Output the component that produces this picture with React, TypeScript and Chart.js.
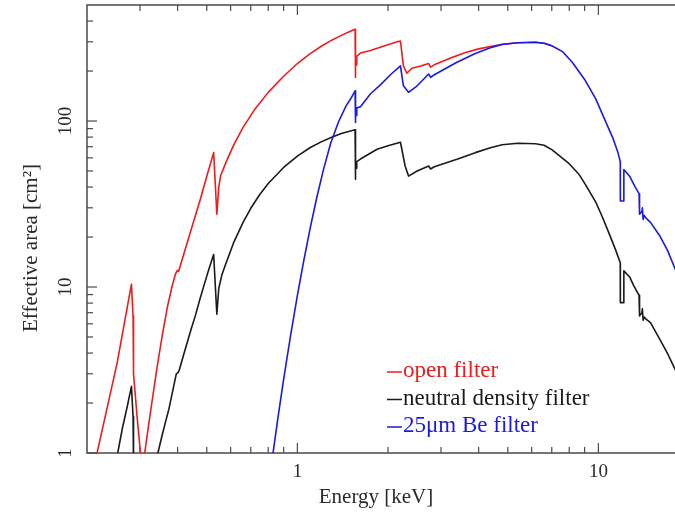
import React, { useEffect, useRef } from 'react';
import { Chart, registerables } from 'chart.js';
Chart.register(...registerables);

// ---- axis ticks ----
const X_MAJOR = [1, 10];
const X_MAJOR_LABELS = ['1', '10'];
const X_MINOR = [0.3, 0.4, 0.5, 0.6, 0.7, 0.8, 0.9, 2, 3, 4, 5, 6, 7, 8, 9, 20];
const Y_MAJOR = [1, 10, 100];
const Y_MAJOR_LABELS = ['1', '10', '100'];
const Y_MINOR = [2, 3, 4, 5, 6, 7, 8, 9, 20, 30, 40, 50, 60, 70, 80, 90, 200, 300, 400];

const X_TITLE = 'Energy [keV]';
const Y_TITLE = 'Effective area [cm\u00B2]';
const SERIES_LABELS = ['open filter', 'neutral density filter', '25\u03BCm Be filter'];
const SERIES_COLORS = ['#ee1c1c', '#1a1a1a', '#1a1ae6'];
const SERIES_ORDER = [2, 1, 0];

// ---- open filter (red); above ~7 keV it coincides with (and is hidden by) the Be curve ----
const openE = [0.205, 0.216, 0.252, 0.281, 0.2845, 0.285, 0.2855, 0.286, 0.293, 0.301, 0.305, 0.307,
  0.311, 0.32, 0.329, 0.342, 0.355, 0.37, 0.383, 0.393, 0.399, 0.403, 0.414, 0.424, 0.45, 0.476, 0.50,
  0.527, 0.540, 0.548, 0.556, 0.58, 0.614, 0.66, 0.72, 0.80, 0.90, 1.0, 1.1, 1.2, 1.3, 1.4, 1.5, 1.555,
  1.557, 1.563, 1.567, 1.575, 1.62, 1.75, 1.863, 2.0, 2.144, 2.2, 2.25, 2.31, 2.40, 2.55, 2.73, 2.77,
  2.85, 3.26, 3.6, 4.0, 4.79, 5.4, 6.18, 6.6, 7.0];
const openA = [0.66, 1.0, 3.5, 10.4, 6.7, 4.5, 6.0, 3.0, 1.7, 1.0, 0.8, 0.8,
  1.0, 1.45, 2.05, 3.3, 5.0, 7.6, 10.0, 11.9, 12.6, 12.4, 14.6, 16.9, 24.1, 33.8, 46.5,
  64.5, 27.5, 40, 47, 56.7, 71.6, 91.5, 116.8, 148.8, 186, 222, 254, 282, 307, 328, 347, 357,
  183, 240, 218, 245, 257, 266, 276, 288, 300, 303, 215, 194, 208, 214, 222, 211,
  218, 241, 258, 272, 290, 296, 298, 294, 284];

// ---- neutral density filter (black) ----
const ndE = [0.245, 0.253, 0.262, 0.272, 0.281, 0.2845, 0.285, 0.2855, 0.286, 0.29, 0.34,
  0.344, 0.355, 0.365, 0.374, 0.385, 0.396, 0.401, 0.405, 0.417, 0.43, 0.444, 0.458, 0.474, 0.49,
  0.508, 0.527, 0.540, 0.548, 0.561, 0.58, 0.614, 0.66, 0.70, 0.75, 0.80, 0.90, 1.0, 1.1, 1.2, 1.3,
  1.4, 1.5, 1.555, 1.557, 1.563, 1.567, 1.575, 1.62, 1.84, 2.0, 2.17, 2.2, 2.28, 2.34, 2.5, 2.73,
  2.77, 2.85, 3.39, 3.9, 4.38, 4.79, 5.4, 6.18, 6.6, 7.02, 7.94, 8.6, 9.05, 9.8, 10.3, 10.8, 11.4,
  11.82, 11.83, 12.13, 12.15, 12.7, 13.1, 13.65, 13.7, 13.95, 14.0, 14.08, 14.2, 14.4, 14.9, 16.0,
  17.0, 18.0, 20];
const ndA = [0.75, 1.0, 1.4, 1.9, 2.52, 1.66, 1.2, 1.5, 0.8, 0.6, 0.6,
  1.0, 1.27, 1.55, 1.83, 2.35, 3.0, 3.05, 3.15, 3.8, 4.6, 5.6, 6.7, 8.4, 10.3,
  12.8, 15.7, 6.85, 9.8, 11.8, 14.0, 18.5, 24.5, 29.8, 36.1, 42.0, 52.5, 61.5, 69, 74.9, 79.9,
  84.1, 87, 88.5, 44.6, 58, 52, 57, 59, 67.6, 71, 74, 74.5, 53.6, 46.6, 50, 53.6,
  51.4, 53, 58.8, 64.5, 69, 72, 73.5, 73, 71.5, 67, 56, 48, 41.5, 32.5, 26.5, 21.5, 16.8,
  14, 8.05, 8.05, 12.5, 11.5, 10.2, 8.9, 6.7, 7.0, 7.4, 6.3, 6.6, 6.4, 6.1, 4.83,
  3.95, 3.18, 2.2];

// ---- 25um Be filter (blue) ----
const beE = [0.80, 0.83, 0.86, 0.90, 0.95, 1.0, 1.05, 1.105, 1.16, 1.22, 1.29, 1.37, 1.45, 1.51, 1.555,
  1.557, 1.563, 1.568, 1.575, 1.62, 1.75, 1.886, 2.05, 2.2, 2.25, 2.34, 2.5, 2.73, 2.77, 2.85, 3.39,
  3.9, 4.38, 4.79, 5.4, 6.18, 6.6, 7.0, 7.6, 8.2, 9.0, 9.8, 10.5, 11.2, 11.6, 11.82, 11.83, 12.13, 12.15,
  12.7, 13.2, 13.65, 13.7, 13.95, 14.0, 14.08, 14.2, 14.4, 14.9, 16.0, 17.0, 18.0, 20];
const beA = [0.73, 1.0, 1.59, 2.78, 5.15, 8.9, 14.4, 23, 34.6, 50.8, 73.4, 99, 123, 138, 152,
  98, 122, 108, 120, 122, 146, 165, 192, 215, 163, 149, 163, 192, 183, 190, 226,
  255, 276, 289, 296, 298, 294, 284, 262, 225, 178, 136, 102, 78, 65, 57, 33, 33, 51,
  46.5, 40.5, 36.5, 27.5, 28.5, 30, 25.5, 27, 26, 24.5, 20.3, 16.5, 12.8, 9.0];

const SERIES_E = [openE, ndE, beE];
const SERIES_A = [openA, ndA, beA];

const FONT = '"Liberation Serif", "DejaVu Serif", serif';
const AXIS_COLOR = '#4a4a4a';
const TEXT_COLOR = '#2a2a2a';

const framePlugin = {
  id: 'frame',
  beforeDatasetsDraw(chart: any) {
    const { ctx, chartArea: a, scales } = chart;
    const x = scales.x, y = scales.y;
    ctx.save();
    ctx.strokeStyle = AXIS_COLOR;
    ctx.lineWidth = 1.5;
    ctx.strokeRect(a.left, a.top, a.right - a.left, a.bottom - a.top);
    const seg = (x1: number, y1: number, x2: number, y2: number) => {
      ctx.beginPath(); ctx.moveTo(x1, y1); ctx.lineTo(x2, y2); ctx.stroke();
    };
    ctx.lineWidth = 1.2;
    X_MAJOR.forEach(v => { const p = x.getPixelForValue(v); seg(p, a.bottom, p, a.bottom - 10); seg(p, a.top, p, a.top + 10); });
    X_MINOR.forEach(v => { const p = x.getPixelForValue(v); seg(p, a.bottom, p, a.bottom - 6); seg(p, a.top, p, a.top + 6); });
    Y_MAJOR.forEach(v => { const p = y.getPixelForValue(v); seg(a.left, p, a.left + 10, p); seg(a.right, p, a.right - 10, p); });
    Y_MINOR.forEach(v => { const p = y.getPixelForValue(v); seg(a.left, p, a.left + 6, p); seg(a.right, p, a.right - 6, p); });
    ctx.restore();
  },
  afterDatasetsDraw(chart: any) {
    const { ctx, chartArea: a, scales } = chart;
    const x = scales.x, y = scales.y;
    ctx.save();
    ctx.fillStyle = TEXT_COLOR;
    ctx.font = `19px ${FONT}`;
    ctx.textAlign = 'center';
    ctx.textBaseline = 'middle';
    X_MAJOR.forEach((v, i) => ctx.fillText(X_MAJOR_LABELS[i], x.getPixelForValue(v), a.bottom + 19));
    Y_MAJOR.forEach((v, i) => {
      ctx.save();
      ctx.translate(a.left - 21, y.getPixelForValue(v));
      ctx.rotate(-Math.PI / 2);
      ctx.fillText(Y_MAJOR_LABELS[i], 0, 0);
      ctx.restore();
    });
    ctx.font = `21px ${FONT}`;
    ctx.fillText(X_TITLE, (a.left + a.right) / 2 - 12, a.bottom + 44);
    ctx.save();
    ctx.translate(a.left - 56, (a.top + a.bottom) / 2 + 19);
    ctx.rotate(-Math.PI / 2);
    ctx.fillText(Y_TITLE, 0, 0);
    ctx.restore();

    // legend
    ctx.font = `23px ${FONT}`;
    ctx.textAlign = 'left';
    ctx.textBaseline = 'alphabetic';
    const lx = a.left + 300;
    const ly = a.bottom - 81;
    SERIES_LABELS.forEach((lab, i) => {
      const yy = ly + i * 27.5;
      ctx.strokeStyle = SERIES_COLORS[i];
      ctx.lineWidth = 1.5;
      ctx.beginPath(); ctx.moveTo(lx, yy); ctx.lineTo(lx + 15, yy); ctx.stroke();
      ctx.fillStyle = SERIES_COLORS[i];
      ctx.fillText(lab, lx + 16, yy + 5);
    });
    ctx.restore();
  },
};

export default function App() {
  const ref = useRef<HTMLCanvasElement>(null);
  useEffect(() => {
    if (!ref.current) return;
    const datasets = SERIES_E.map((es, i) => ({
      label: SERIES_LABELS[i],
      data: es.map((e, j) => ({ x: e, y: SERIES_A[i][j] })),
      borderColor: SERIES_COLORS[i],
      backgroundColor: SERIES_COLORS[i],
      borderWidth: 1.6,
      pointRadius: 0,
      showLine: true,
      fill: false,
      tension: 0,
      borderJoinStyle: 'round' as const,
      order: SERIES_ORDER[i],
    }));
    const chart = new Chart(ref.current, {
      type: 'scatter',
      data: { datasets },
      options: {
        responsive: false,
        devicePixelRatio: 1,
        animation: false,
        layout: { padding: { left: 87, top: 5, right: 11, bottom: 59 } },
        plugins: { legend: { display: false }, tooltip: { enabled: false } },
        scales: {
          x: { type: 'logarithmic', min: 0.2, max: 20, display: false },
          y: { type: 'logarithmic', min: 1, max: 500, display: false },
        },
      },
      plugins: [framePlugin],
    });
    return () => chart.destroy();
  }, []);
  return (
    <div style={{ position: 'fixed', left: 0, top: 0, width: 675, height: 512, overflow: 'hidden', background: '#fff' }}>
      <canvas ref={ref} width={700} height={512} style={{ display: 'block', width: 700, height: 512 }} />
    </div>
  );
}
